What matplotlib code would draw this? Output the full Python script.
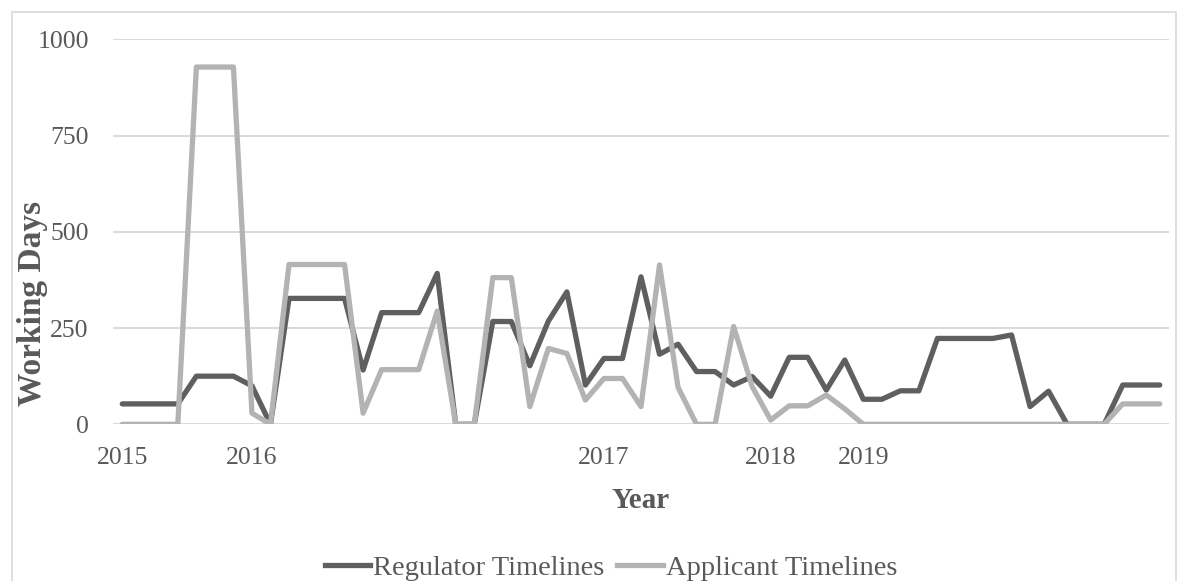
import matplotlib
matplotlib.use("Agg")
import matplotlib.pyplot as plt
from matplotlib.lines import Line2D
from matplotlib.patches import Rectangle

# Working days per review period (category axis, 57 periods)
regulator = [53, 53, 53, 53, 125, 125, 125, 100, 0, 327, 327, 327, 327, 141,
             290, 290, 290, 392, 0, 0, 267, 267, 152, 268, 344, 102, 171, 171,
             383, 182, 208, 137, 137, 102, 124, 73, 174, 174, 89, 167, 65, 65,
             87, 87, 223, 223, 223, 223, 232, 46, 86, 0, 0, 0, 102, 102, 102]
applicant = [0, 0, 0, 0, 928, 928, 928, 29, 0, 415, 415, 415, 415, 29,
             142, 142, 142, 294, 0, 0, 381, 381, 46, 197, 184, 63, 119, 119,
             46, 414, 96, 0, 0, 254, 98, 11, 48, 48, 76, 40,
             0, 0, 0, 0, 0, 0, 0, 0, 0, 0, 0, 0, 0, 0, 53, 53, 53]
year_positions = [0, 7, 26, 35, 40]
year_labels = ["2015", "2016", "2017", "2018", "2019"]
y_ticks = [0, 250, 500, 750, 1000]

DARK = "#5f5f5f"
LIGHT = "#b3b3b3"
GRID = "#d9d9d9"
TEXT = "#595959"
LW = 3.8

plt.rcParams["font.family"] = ["Liberation Serif", "DejaVu Serif"]

W, H = 1186, 581
fig = plt.figure(figsize=(W / 100, H / 100), dpi=100)

# chart-area border
fig.patches.append(Rectangle((12 / W, -0.01), (1176 - 12) / W, 1 - 12 / H + 0.01,
                             transform=fig.transFigure, fill=False,
                             edgecolor=GRID, linewidth=1.2))

left, right, top, bottom = 113, 1169, 39.3, 424.3
ax = fig.add_axes([left / W, 1 - bottom / H, (right - left) / W, (bottom - top) / H])

x = list(range(len(regulator)))
ax.plot(x, regulator, color=DARK, linewidth=LW, solid_capstyle="round",
        solid_joinstyle="round", label="Regulator Timelines", zorder=3)
ax.plot(x, applicant, color=LIGHT, linewidth=LW, solid_capstyle="round",
        solid_joinstyle="round", label="Applicant Timelines", zorder=4)

ax.set_xlim(-0.5, len(regulator) - 0.5)
ax.set_ylim(0, 1000)
ax.set_yticks(y_ticks)
ax.set_yticklabels([str(v) for v in y_ticks])
ax.set_xticks(year_positions)
ax.set_xticklabels(year_labels)
ax.yaxis.grid(True, color=GRID, linewidth=1.4, zorder=0)
ax.set_axisbelow(True)
for s in ax.spines.values():
    s.set_visible(False)
ax.tick_params(axis="both", length=0, labelsize=18.5, labelcolor=TEXT)
ax.tick_params(axis="x", pad=16)
ax.tick_params(axis="y", pad=17.5)

fig.text(641 / W, 1 - 501 / H, "Year", ha="center", va="center",
         fontsize=21, fontweight="bold", color=TEXT)
fig.text(33 / W, 1 - 303 / H, "Working Days", ha="center", va="center",
         rotation=90, fontsize=24, fontweight="bold", color=TEXT)

handles = [Line2D([], [], color=DARK, linewidth=LW),
           Line2D([], [], color=LIGHT, linewidth=LW)]
fig.legend(handles, ["Regulator Timelines", "Applicant Timelines"],
           loc="center", bbox_to_anchor=(611 / W, 1 - 568 / H), ncol=2,
           frameon=False, fontsize=20.5, handlelength=1.6, handletextpad=0.1,
           columnspacing=0.45, labelcolor=TEXT, borderpad=0)

fig.savefig("out.png", dpi=100, facecolor="white")
